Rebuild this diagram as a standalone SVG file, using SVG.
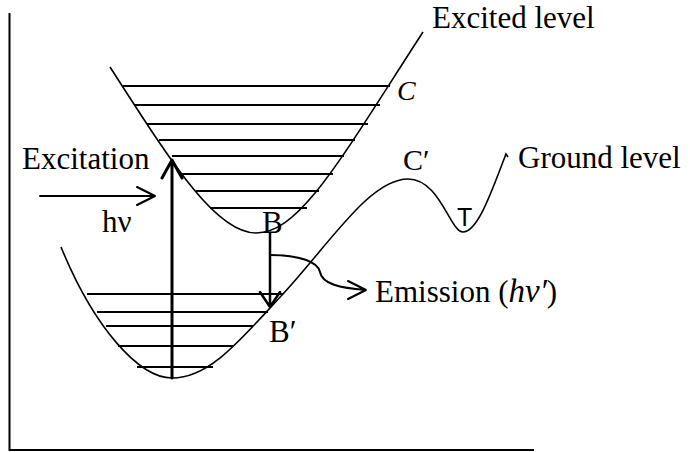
<svg xmlns="http://www.w3.org/2000/svg" width="690" height="452" viewBox="0 0 690 452">
<style>
.curve{fill:none;stroke:#000;stroke-width:1.6}
.lvl{stroke:#000;stroke-width:2}
.axis{fill:none;stroke:#000;stroke-width:2}
.arr{fill:none;stroke:#000;stroke-linecap:round;stroke-linejoin:round}
.t{font-family:"Liberation Serif","Times New Roman",serif;font-size:31px;fill:#000}
.it{font-style:italic}
.s{font-family:"Liberation Sans",Arial,sans-serif;font-size:25px;fill:#000}
</style>
<rect width="690" height="452" fill="#fff"/>
<g id="axes">
<path class="axis" d="M9.5,13 V450 H534"/>
</g>
<g id="excited-curve">
<path class="curve" d="M110,67 C170,160 215,233 256,233 C300,233 340,160 423,32"/>
<g class="lvl">
<line x1="123" y1="86" x2="390" y2="86"/>
<line x1="134" y1="105" x2="380" y2="105"/>
<line x1="147" y1="124" x2="368" y2="124"/>
<line x1="159" y1="140" x2="355" y2="140"/>
<line x1="172" y1="156" x2="344" y2="156"/>
<line x1="182" y1="174" x2="333" y2="174"/>
<line x1="196" y1="191" x2="319" y2="191"/>
<line x1="210" y1="208" x2="307" y2="208"/>
</g>
<text class="t" x="432" y="28">Excited level</text>
<text class="t it" x="397" y="100" style="font-size:28px">C</text>
<text class="t" x="262" y="233">B</text>
</g>
<g id="ground-curve">
<path class="curve" d="M61,247 C95,330 140,378 172,378 C210,378 240,340 283,294 C330,243 370,179 408,179 C440,179 450,232 463,232 C478,232 492,190 506,154 L508,157"/>
<g class="lvl">
<line x1="87" y1="294" x2="283" y2="294"/>
<line x1="97" y1="312" x2="268" y2="312"/>
<line x1="106" y1="326" x2="253" y2="326"/>
<line x1="118" y1="346" x2="233" y2="346"/>
<line x1="137" y1="367" x2="213" y2="367"/>
</g>
<text class="t" x="518" y="168">Ground level</text>
<text class="t" x="403" y="170" style="font-size:30px">C′</text>
<text class="s" x="457" y="226">T</text>
<text class="t" x="269" y="342">B′</text>
</g>
<g id="labels">
<text class="t" x="22" y="169">Excitation</text>
<text class="t" x="102" y="232">hν</text>
<text class="t" x="375" y="302">Emission (<tspan class="it" style="font-size:33px">hν′</tspan>)</text>
</g>
<g id="connectors">
<path class="arr" style="stroke-width:3" d="M172,378 V161 M162,178 L172,160 L182,178"/>
<path class="arr" style="stroke-width:2" d="M40,196 H155 M137,187 L155,196 L137,205"/>
<path class="arr" style="stroke-width:2.5" d="M270,233 V307 M260,292 L270,307 L280,292"/>
<path class="arr" style="stroke-width:2" d="M270,255 C300,255 318,262 320,272 C322,284 340,288 366,290 M348,281 L366,290 L348,299"/>
</g>
</svg>
